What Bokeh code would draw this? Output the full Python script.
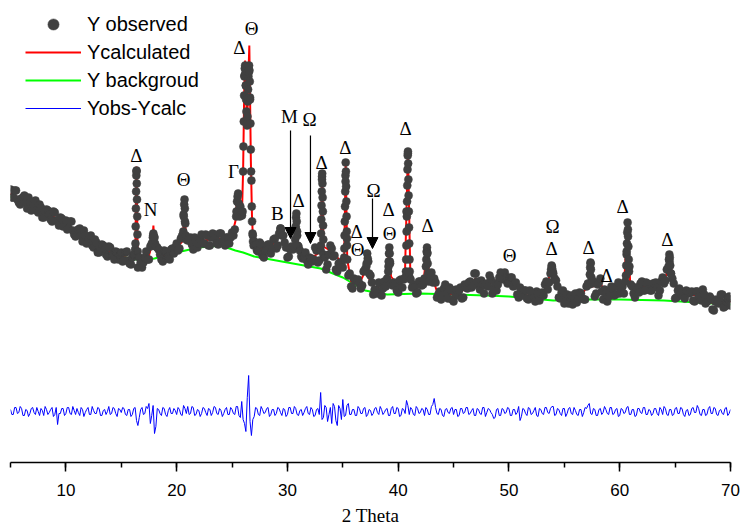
import numpy as np
from bokeh.plotting import figure
from bokeh.models import (Range1d, Legend, LegendItem, Arrow, NormalHead,
                          SingleIntervalTicker)
from bokeh.core.properties import value
from bokeh.embed import file_html
from bokeh.resources import INLINE

# ---------------- data ----------------
SCAN_START = 5.0
SCAN_STEP = 0.25

# observed intensity on the scan grid (5.00 .. 70.00, step 0.25)
Y_OBS_SCAN = [
    222, 214, 221, 209, 213, 216, 203, 209, 204, 211, 199, 204, 194, 202, 197, 190, 199, 191, 194, 185,
    191, 183, 190, 177, 181, 183, 170, 176, 170, 176, 164, 169, 159, 167, 162, 155, 164, 157, 160, 152,
    159, 151, 160, 148, 154, 162, 144, 149, 149, 160, 152, 168, 174, 164, 157, 150, 160, 155, 162, 158,
    168, 163, 176, 190, 171, 174, 162, 171, 168, 177, 168, 176, 166, 178, 173, 167, 178, 171, 174, 168,
    179, 182, 215, 205, 240, 326, 339, 231, 170, 161, 169, 156, 161, 167, 158, 172, 163, 178, 176, 169,
    154, 162, 162, 185, 165, 155, 155, 151, 154, 150, 164, 149, 161, 157, 142, 157, 163, 156, 140, 149,
    144, 230, 136, 125, 133, 131, 128, 126, 142, 153, 136, 117, 121, 129, 116, 130, 133, 150, 126, 127,
    119, 132, 132, 200, 135, 124, 124, 119, 130, 127, 145, 130, 139, 133, 114, 120, 117, 127, 113, 122,
    110, 122, 121, 113, 127, 123, 130, 126, 138, 127, 131, 118, 128, 136, 118, 128, 127, 139, 132, 134,
    129, 134, 126, 117, 124, 116, 121, 112, 119, 114, 120, 111, 119, 127, 122, 138, 138, 131, 114, 119,
    108, 117, 114, 107, 118, 113, 118, 112, 125, 127, 128, 115, 127, 133, 112, 118, 115, 125, 116, 125,
    118, 125, 130, 175, 127, 118, 124, 119, 130, 121, 128, 121, 128, 129, 116, 130, 128, 142, 150, 133,
    113, 121, 118, 115, 121, 118, 120, 110, 120, 115, 122, 108, 111, 113, 101, 112, 111, 117, 105, 113, 106,
]

# observed intensity at the half steps (5.125 .. 69.875)
Y_OBS_HALF = [
    214, 221, 212, 207, 214, 209, 214, 201, 207, 201, 207, 194, 200, 201, 192, 200, 191, 186, 193, 189,
    182, 190, 181, 175, 182, 176, 181, 168, 173, 166, 172, 159, 165, 166, 157, 165, 156, 152, 159, 156,
    150, 159, 151, 147, 157, 240, 154, 144, 154, 152, 165, 176, 165, 162, 152, 161, 153, 152, 163, 164,
    161, 173, 197, 172, 172, 167, 174, 164, 172, 168, 177, 166, 174, 177, 168, 178, 170, 166, 174, 174,
    176, 195, 202, 198, 336, 288, 314, 176, 167, 160, 167, 154, 162, 167, 163, 173, 166, 183, 176, 164,
    155, 165, 165, 180, 161, 153, 159, 147, 153, 152, 161, 151, 235, 154, 147, 166, 155, 142, 148, 149,
    154, 173, 138, 123, 131, 132, 123, 140, 145, 138, 129, 122, 118, 128, 123, 125, 145, 128, 129, 121,
    131, 124, 134, 258, 132, 127, 118, 130, 126, 133, 159, 137, 129, 129, 117, 112, 123, 118, 124, 112,
    119, 116, 124, 114, 124, 129, 124, 138, 130, 122, 127, 126, 125, 132, 123, 121, 134, 133, 139, 128,
    134, 125, 129, 114, 119, 121, 113, 121, 114, 110, 118, 118, 116, 130, 129, 145, 133, 125, 113, 121,
    111, 108, 116, 113, 109, 119, 113, 112, 128, 148, 130, 118, 129, 120, 122, 110, 119, 123, 117, 129,
    120, 118, 160, 145, 125, 114, 123, 128, 121, 129, 122, 121, 128, 124, 121, 134, 131, 142, 138, 128,
    114, 123, 117, 113, 120, 119, 111, 120, 115, 111, 117, 110, 115, 102, 110, 108, 117, 104, 110, 115,
]

# extra observed points on the reflection flanks
PEAK_X = [
    16.28, 16.30, 16.32, 16.34, 16.36, 16.38, 16.40, 16.42, 16.44, 16.46, 16.48,
    17.85, 17.90, 17.95, 18.05,
    20.60, 20.64, 20.68, 20.71, 20.74, 20.78, 20.82,
    25.40, 25.45, 25.55, 25.60, 25.65, 25.70, 25.80, 25.90,
    25.95, 26.03, 26.06, 26.09, 26.12, 26.15, 26.18, 26.21, 26.24, 26.27,
    26.30, 26.33, 26.36, 26.39, 26.42, 26.45, 26.48, 26.51, 26.54, 26.57,
    26.60, 26.63, 26.66, 26.69, 26.72, 26.78, 26.81, 26.85, 26.90, 26.95,
    29.38, 29.42,
    30.70, 30.74, 30.78, 30.81, 30.84, 30.88, 30.92,
    33.02, 33.04, 33.06, 33.08, 33.10, 33.12, 33.14, 33.16, 33.18, 33.20, 33.22, 33.24,
    35.12, 35.14, 35.16, 35.18, 35.20, 35.22, 35.24, 35.26, 35.28, 35.30, 35.32, 35.34, 35.36, 35.38, 35.40,
    37.15, 37.20, 37.30,
    39.10, 39.14, 39.17, 39.20, 39.23, 39.27,
    40.70, 40.72, 40.74, 40.76, 40.78, 40.80, 40.82, 40.84, 40.86, 40.88, 40.90, 40.92, 40.94, 40.96, 40.98, 41.00, 41.02, 41.04,
    42.54, 42.57, 42.60, 42.63, 42.66, 42.70,
    53.80, 53.85, 53.90, 53.95,
    57.30, 57.33, 57.36, 57.40, 57.44,
    60.56, 60.59, 60.62, 60.65, 60.68, 60.71, 60.74, 60.78, 60.81, 60.84,
    64.40, 64.44, 64.48, 64.52, 64.56, 64.62,
]
PEAK_Y = [
    168, 185, 203, 220, 236, 241, 228, 212, 195, 177, 160,
    174, 178, 175, 168,
    180, 195, 207, 212, 203, 188, 176,
    200, 210, 218, 208, 200, 195, 200, 196,
    200, 265, 290, 316, 335, 343, 346, 338, 326, 312,
    300, 290, 286, 295, 310, 322, 335, 342, 346, 341,
    330, 312, 288, 262, 240, 205, 190, 178, 170, 166,
    183, 181,
    172, 183, 194, 198, 190, 176, 166,
    166, 178, 192, 206, 220, 232, 238, 228, 214, 200, 186, 172,
    152, 163, 176, 190, 205, 220, 236, 249, 240, 225, 210, 195, 180, 166, 152,
    148, 158, 150,
    140, 150, 158, 164, 158, 148,
    140, 152, 166, 180, 195, 210, 226, 242, 256, 260, 248, 232, 216, 200, 184, 168, 152, 140,
    152, 160, 164, 158, 148, 138,
    142, 146, 143, 140,
    137, 144, 149, 142, 134,
    136, 146, 157, 168, 179, 189, 182, 165, 152, 140,
    145, 152, 157, 154, 146, 138,
]

# calculated profile
CALC_X = [
    5.0, 6.0, 7.0, 8.0, 9.0, 10.0, 11.0, 12.0, 13.0, 14.0,
    15.0, 15.75, 16.2, 16.28, 16.33, 16.37, 16.42, 16.48, 16.6, 17.0,
    17.5, 17.8, 17.9, 18.0, 18.3, 19.0, 19.5, 20.0, 20.5, 20.62,
    20.71, 20.8, 21.0, 22.0, 23.0, 24.0, 25.0, 25.3, 25.5, 25.65,
    25.9, 26.0, 26.1, 26.18, 26.25, 26.36, 26.45, 26.56, 26.62, 26.7,
    26.8, 26.9, 27.0, 28.0, 28.75, 29.4, 29.8, 30.5, 30.7, 30.81,
    30.92, 31.5, 32.5, 33.0, 33.14, 33.25, 34.0, 35.0, 35.12, 35.26,
    35.4, 35.75, 36.5, 37.0, 37.2, 37.4, 38.0, 39.0, 39.2, 39.35,
    40.0, 40.6, 40.88, 41.1, 41.5, 42.3, 42.6, 42.8, 43.0, 43.5,
    45.0, 46.0, 47.0, 48.0, 49.5, 50.5, 51.5, 53.0, 53.5, 53.85,
    54.2, 55.0, 56.5, 57.2, 57.36, 57.55, 58.2, 59.0, 60.4, 60.71,
    60.95, 62.0, 63.5, 64.2, 64.48, 64.8, 65.5, 67.0, 68.5, 70.0,
]
CALC_Y = [
    218, 212, 206, 200, 194, 187, 180, 172, 165, 159,
    155, 153, 155, 168, 215, 245, 212, 160, 150, 151,
    156, 168, 186, 168, 160, 155, 159, 164, 170, 185,
    214, 182, 171, 170, 172, 173, 177, 190, 218, 202,
    200, 241, 320, 351, 325, 285, 325, 366, 320, 250,
    195, 170, 167, 161, 168, 183, 165, 162, 172, 200,
    166, 154, 156, 160, 240, 165, 160, 148, 152, 250,
    152, 130, 128, 140, 158, 132, 122, 134, 166, 135,
    126, 132, 262, 135, 122, 130, 166, 134, 137, 120,
    117, 122, 133, 127, 134, 126, 118, 118, 127, 148,
    126, 114, 115, 128, 151, 125, 128, 117, 128, 192,
    126, 125, 125, 136, 159, 128, 118, 116, 108, 110,
]

# background
BKG_X = [5, 8, 11, 14, 16, 18, 20, 22, 24, 25.3, 26, 27, 30, 33, 35, 37, 39,
         42, 45, 48, 50, 54, 57, 60, 64, 67, 70]
BKG_Y = [215, 199, 176, 159, 152, 153, 159, 164, 166, 161, 159, 155, 149, 143, 134, 121, 117,
         118, 117, 116, 115, 111, 112, 112, 111, 109, 107]

# Yobs - Ycalc on the scan grid
DIFF = [
    2, -3, 4, -1, 3, -4, 1, -2, 4, -3, 0, 3, -4, 2, -1, 4, -3, -13, -2, 3,
    -2, 4, -3, 1, 3, -4, 2, -1, 4, -3, 1, -2, 3, -4, 2, 0, -3, 4, -2, 3,
    -1, 3, -4, 2, -3, 4, -14, 2, -3, 5, 8, -4, -22, 3, -2, 4, -3, 1, -2, 3,
    -3, 2, -4, 3, 5, -2, 4, -3, 1, -2, 3, -4, 2, -1, 4, -3, 1, -2, 4, -3,
    2, -3, 5, -6, -8, -20, 36, -24, -5, 3, -4, 2, -1, 4, -3, 2, -2, 3, -4, 2,
    -3, 4, -2, 3, -4, 2, -1, 5, -3, 2, -4, 3, 19, -6, 4, -3, -12, 5, -14, 3,
    12, -4, 8, -3, 2, -4, 3, -2, 4, -3, 1, -2, 4, -3, 2, -1, 3, -4, 5, -2,
    3, -4, 2, 11, -3, 2, -4, 3, -1, 2, 4, -3, 5, 13, -2, 3, -4, 2, -1, 3,
    -3, 2, -4, 3, -1, 4, -2, 3, -4, 2, -3, 4, -1, 2, -3, -6, 3, -4, 2, -1,
    3, -4, 2, -1, -9, 3, -2, 4, -3, 1, -4, 3, -2, 4, -1, 3, 5, -3, 2, -4,
    3, -2, 4, -3, 1, -4, 2, -1, 3, 8, -3, 2, -4, 3, -1, 2, -3, 4, -2, 3,
    -4, 2, -1, 5, -3, 2, -4, 3, -2, 4, -3, 1, -2, 3, -4, 2, 5, -3, 2, -4,
    3, -2, 4, -3, 1, -4, 3, -1, 6, -3, 2, -4, 3, -2, 4, -3, 1, -2, 3, -4, 2,
]
# Yobs - Ycalc at the half steps
DIFF_HALF = [
    -3, 4, -2, 5, -4, 2, -5, 3, -1, 4, -4, 1, 5, -3, 2, -5, 4, -2, 3, -4,
    4, -2, 5, -3, -1, 4, -5, 2, -3, 5, -2, 4, -4, 1, -3, 5, -2, 3, -5, 2,
    4, -3, 2, -5, 3, -9, -6, 4, -2, 3, -12, 6, -15, 2, -4, 3, -5, 4, -2, 1,
    4, -3, 6, -2, -3, 5, -4, 2, -5, 4, -1, 3, -4, 5, -2, 3, -5, 2, -3, 4,
    -2, 5, -4, 10, -12, 14, -10, -8, 4, -3, 5, -2, 3, -5, 2, -4, 4, -1, 3, -5,
    4, -2, 5, -3, 1, -4, 3, -2, 4, -5, 2, -3, -8, 6, -10, 4, 8, -9, 6, -8,
    -5, 6, -3, 2, -4, 5, -2, 3, -5, 2, -4, 3, -1, 5, -3, 2, -4, 3, -2, 4,
    -5, 3, -2, 6, 4, -3, 5, -2, 3, -4, 2, -3, 7, 4, -3, 2, -5, 3, -2, 4,
    2, -5, 3, -2, 4, -3, 1, -4, 3, -2, 4, -5, 3, -1, -7, 2, -4, 3, -2, 4,
    -4, 2, -3, 5, -5, 2, -4, 3, -2, 4, -5, 2, -3, 4, -2, 5, -4, 3, -2, 3,
    -5, 3, -2, 4, -3, 2, -5, 4, 6, -2, 3, -4, 2, -3, 5, -2, 4, -3, 2, -5,
    3, -2, 4, -3, 2, -5, 3, -1, 4, -3, 2, -4, 3, -2, 4, -3, 3, -4, 2, -3,
    4, -2, 3, -5, 2, -3, 4, -1, 3, -4, 2, -3, 5, -2, 3, -4, 2, -3, 4, -2,
]

# phase labels
LBL_TEXT = ["Δ", "N", "Θ", "Γ", "Δ", "Θ", "B", "M", "Ω", "Δ", "Δ", "Δ", "Δ", "Θ",
            "Ω", "Δ", "Θ", "Δ", "Δ", "Θ", "Ω", "Δ", "Δ", "Δ", "Δ", "Δ"]
LBL_X = [16.37, 17.64, 20.62, 25.13, 25.67, 26.76, 29.10, 30.19, 31.99, 31.00, 33.08, 35.24,
         36.24, 36.33, 37.77, 39.13, 39.22, 40.66, 42.65, 50.05, 53.93, 53.84, 57.18, 58.81,
         60.25, 64.31]
LBL_Y = [256, 202, 232, 240, 364, 383, 198, 295, 292, 211, 249, 264,
         180, 162, 221, 202, 178, 283, 186, 156, 185, 163, 164, 136,
         205, 172]

# arrows (x, start y, end y)
ARR_X = [30.28, 32.08, 37.68]
ARR_Y0 = [281, 276, 213]
ARR_Y1 = [173, 168, 163]

# ---------------- build ----------------
assert len(PEAK_X) == len(PEAK_Y)
assert len(CALC_X) == len(CALC_Y)
assert len(Y_OBS_SCAN) == len(DIFF)
assert len(Y_OBS_HALF) == len(Y_OBS_SCAN) - 1 == len(DIFF_HALF)

x_scan = SCAN_START + SCAN_STEP * np.arange(len(Y_OBS_SCAN))
x_half = x_scan[:-1] + SCAN_STEP / 2
obs_x = np.concatenate([x_scan, x_half, np.array(PEAK_X)])
obs_y = np.concatenate([np.array(Y_OBS_SCAN, float), np.array(Y_OBS_HALF, float),
                        np.array(PEAK_Y, float)])
o = np.argsort(obs_x, kind="stable")
obs_x, obs_y = obs_x[o], obs_y[o]

diff_x = np.concatenate([x_scan, x_half])
diff_y = np.concatenate([np.array(DIFF, float), np.array(DIFF_HALF, float)])
o = np.argsort(diff_x, kind="stable")
diff_x, diff_y = diff_x[o], diff_y[o]

p = figure(width=740, height=531, x_range=Range1d(5, 70), y_range=Range1d(-51, 411),
           output_backend="svg", toolbar_location=None, y_axis_location=None,
           min_border_left=10, min_border_right=10, min_border_top=0, min_border_bottom=69)
p.grid.visible = False
p.outline_line_color = None

r_bkg = p.line(BKG_X, BKG_Y, line_color="#00ff00", line_width=2)
r_calc = p.line(CALC_X, CALC_Y, line_color="#ff0000", line_width=2)
r_obs = p.scatter(obs_x, obs_y, size=8, marker="circle", fill_color="#404040",
                  line_color="#404040", line_width=0.5)
r_diff = p.line(diff_x, diff_y, line_color="#0000ff", line_width=1)

for xa, y0, y1 in zip(ARR_X, ARR_Y0, ARR_Y1):
    p.add_layout(Arrow(end=NormalHead(size=11, fill_color="black", line_color="black"),
                       x_start=xa, y_start=y0, x_end=xa, y_end=y1,
                       line_color="black", line_width=1.2))

p.text(x=LBL_X, y=LBL_Y, text=LBL_TEXT, text_font=value("Liberation Serif"),
       text_font_size="19px", text_align="center", text_baseline="middle",
       text_color="black")

ax = p.xaxis[0]
ax.ticker = SingleIntervalTicker(interval=10, num_minor_ticks=2)
ax.axis_line_width = 1.5
ax.axis_line_color = "black"
ax.major_tick_in = 0
ax.major_tick_out = 9
ax.minor_tick_in = 0
ax.minor_tick_out = 5
ax.major_tick_line_width = 1.5
ax.minor_tick_line_width = 1.5
ax.major_tick_line_color = "black"
ax.minor_tick_line_color = "black"
ax.major_label_text_font = "Liberation Sans"
ax.major_label_text_font_size = "17px"
ax.major_label_text_color = "black"
ax.major_label_standoff = 12
ax.axis_label = "2 Theta"
ax.axis_label_text_font = "Liberation Serif"
ax.axis_label_text_font_size = "19px"
ax.axis_label_text_font_style = "normal"
ax.axis_label_text_color = "black"
ax.axis_label_standoff = 6

legend = Legend(items=[LegendItem(label="Y observed", renderers=[r_obs]),
                       LegendItem(label="Ycalculated", renderers=[r_calc]),
                       LegendItem(label="Y backgroud", renderers=[r_bkg]),
                       LegendItem(label="Yobs-Ycalc", renderers=[r_diff])],
                location=(15, 340), glyph_width=56, glyph_height=28, label_height=28,
                spacing=0, padding=0, margin=0, label_standoff=6,
                label_text_font="Liberation Sans", label_text_font_size="20px",
                label_text_color="black",
                background_fill_alpha=0, border_line_alpha=0)
p.add_layout(legend)

open("out.html", "w").write(file_html(p, INLINE))
